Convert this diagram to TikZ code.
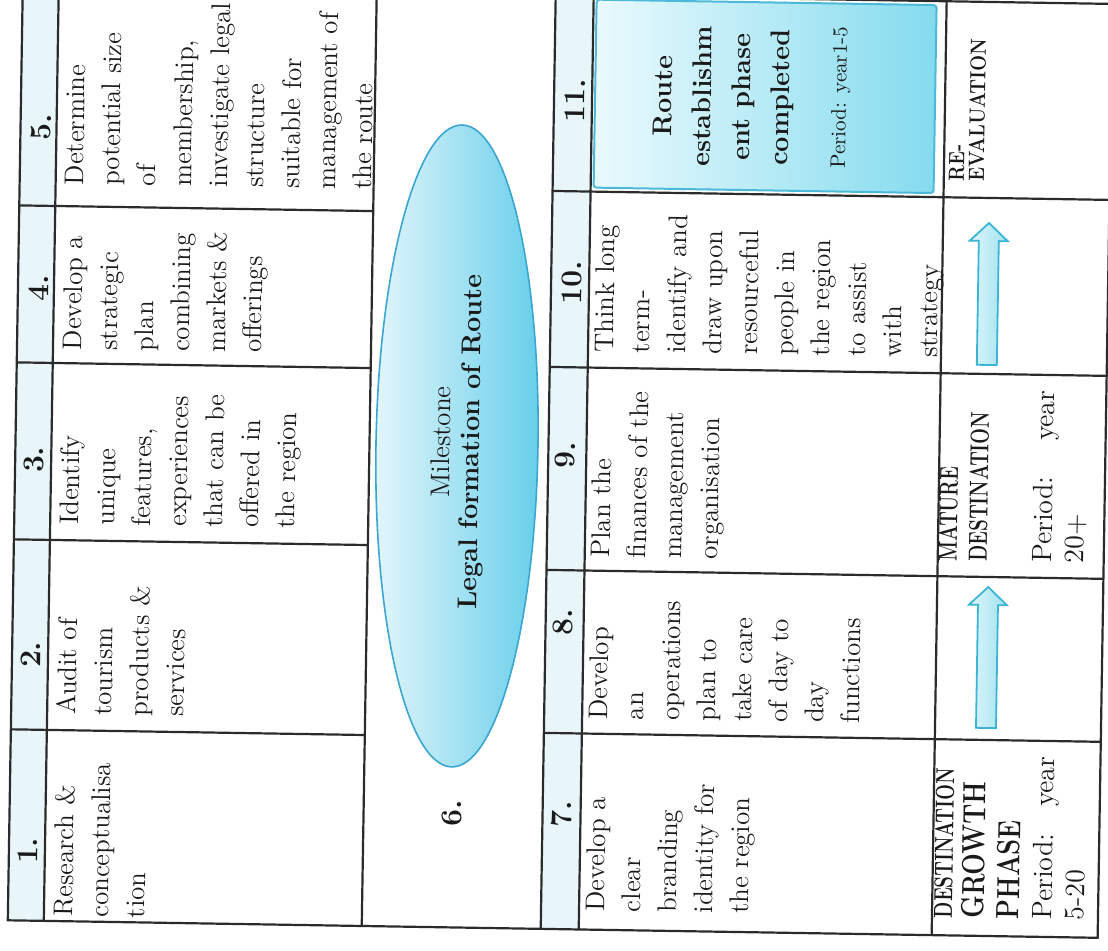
\documentclass[tikz,border=0pt]{standalone}
\usepackage{fontspec}
\usetikzlibrary{shapes.geometric}
\definecolor{hdr}{HTML}{E8F6F9}
\definecolor{linec}{HTML}{2B2B2B}
\definecolor{txt}{HTML}{1A1A1A}
\definecolor{ellb}{HTML}{3AA6D2}
\definecolor{elll}{HTML}{E4F6FB}
\definecolor{ellr}{HTML}{66CEEA}
\definecolor{boxb}{HTML}{4DB9D8}
\definecolor{boxl}{HTML}{EAFAFD}
\definecolor{boxr}{HTML}{84DBEE}
\definecolor{arrb}{HTML}{3CB4D6}
\definecolor{arrl}{HTML}{DDF6FB}
\definecolor{arrr}{HTML}{A2E1EF}
\begin{document}
\begin{tikzpicture}[x=0.5pt,y=-0.5pt,
  grid/.style={draw=linec, line width=1.1pt},
  body/.style={rotate=89.08, anchor=north west, inner sep=0pt, align=left, text=txt,
    font=\fontsize{13.5}{18}\selectfont},
  num/.style={rotate=89.08, inner sep=0pt, text=txt, font=\fontsize{15}{18}\selectfont\bfseries},
  phase/.style={rotate=89.08, anchor=base west, inner sep=0pt, text=txt},
  bigcap/.style={phase, font=\fontsize{16}{18}\selectfont\bfseries},
  smallcap/.style={phase, font=\fontsize{13}{15}\selectfont\bfseries},
  tinycap/.style={phase, font=\fontsize{11}{13}\selectfont\bfseries},
  period/.style={phase, font=\fontsize{14}{18}\selectfont},
  uparrow/.style={draw=arrb, line width=0.9pt, left color=arrl, right color=arrr}]
\useasboundingbox (0,0) rectangle (1108,950);
\clip (0,0) rectangle (1108,950);
\fill[white] (0,0) rectangle (1108,950);
\begin{scope}[rotate around={-0.92:(554,475)}]
  % header column fills
  \fill[hdr] (15,-5) rectangle (51,929);
  \fill[hdr] (548,-5) rectangle (586,929);
  % milestone ellipse
  \node[ellipse, draw=ellb, line width=0.8pt, left color=elll, right color=ellr,
        minimum width=81pt, minimum height=321pt, inner sep=0pt, rotate=-0.92] (ell) at (456.5,447.5) {};
  % route establishment box
  \node[draw=boxb, line width=1pt, left color=boxl, right color=boxr, rounded corners=1.5pt,
        minimum width=170pt, minimum height=94pt, inner sep=0pt, rotate=-0.92] (box11) at (759,93) {};
  % arrows
  \path[uparrow] (980,721) -- (980,598) -- (971,598) -- (990,580) -- (1009,598) -- (1000,598) -- (1000,721) -- cycle;
  \path[uparrow] (975,358) -- (975,234) -- (966,234) -- (985,216) -- (1004,234) -- (995,234) -- (995,358) -- cycle;
  % table grid
  \draw[grid] (15,-5) rectangle (1105,929);
  \foreach \xx in {51,369,548,586,939} \draw[grid] (\xx,-5) -- (\xx,929);
  \foreach \yy in {214,371,548,738} \draw[grid] (15,\yy) -- (369,\yy);
  \foreach \yy in {191,367,570,733} \draw[grid] (548,\yy) -- (1105,\yy);
  % numbers
  \node[num] (n1) at (34,859) {1.};
  \node[num] (n2) at (34,663) {2.};
  \node[num] (n3) at (34,468) {3.};
  \node[num] (n4) at (36,296) {4.};
  \node[num] (n5) at (36,135) {5.};
  \node[num] (n6) at (457,815) {6.};
  \node[num] (n7) at (567,814) {7.};
  \node[num] (n8) at (565,622) {8.};
  \node[num] (n9) at (565,455) {9.};
  \node[num] (n10) at (569,282) {10.};
  \node[num] (n11) at (569,100) {11.};
  % cell texts
  \node[body] (c1) at (60,925) {Research \&\\conceptualisa\\tion};
  \node[body] (c2) at (60,723) {Audit of\\tourism\\products \&\\services};
  \node[body] (c3) at (60,533) {Identify\\unique\\features,\\experiences\\that can be\\offered in\\the region};
  \node[body] (c4) at (60,358) {Develop a\\strategic\\plan\\combining\\markets \&\\offerings};
  \node[body] (c5) at (60,193) {Determine\\potential size\\of\\membership,\\investigate legal\\structure\\suitable for\\management of\\the route};
  \node[body] (c7) at (592,911) {Develop a\\clear\\branding\\identity for\\the region};
  \node[body] (c8) at (592,719) {Develop\\an\\operations\\plan to\\take care\\of day to\\day\\functions};
  \node[body] (c9) at (592,557) {Plan the\\finances of the\\management\\organisation};
  \node[body] (c10) at (592,352) {Think long\\term-\\identify and\\draw upon\\resourceful\\people in\\the region\\to assist\\with\\strategy};
  % milestone text
  \node[rotate=89.08, inner sep=0pt, align=center, text=txt, font=\fontsize{13.5}{14.5}\selectfont] (mst) at (457.5,443.5)
     {Milestone\\\textbf{Legal formation of Route}};
  % box text
  \node[rotate=89.08, anchor=north, inner sep=0pt, align=center, text=txt, font=\fontsize{13.5}{19.5}\selectfont\bfseries] (bt) at (647,94)
     {Route\\establishm\\ent phase\\completed};
  \node[rotate=89.08, anchor=base, inner sep=0pt, text=txt, font=\fontsize{10.5}{12}\selectfont] (bp) at (840,93) {Period: year1-5};
  % phase labels
  \node[smallcap] (d1) at (959,912) {\scalebox{0.72}[1]{DESTINATION}};
  \node[bigcap] (d2) at (991,912) {\scalebox{0.8}[1]{GROWTH}};
  \node[bigcap] (d3) at (1026,912) {\scalebox{0.8}[1]{PHASE}};
  \node[period] (d4) at (1059,912) {\hbox to 81.5pt{Period:\hfill year}};
  \node[period] (d5) at (1091,912) {5-20};
  \node[smallcap] (m1) at (958,555) {\scalebox{0.72}[1]{MATURE}};
  \node[smallcap] (m2) at (988,555) {\scalebox{0.72}[1]{DESTINATION}};
  \node[period] (m3) at (1053,555) {\hbox to 86pt{Period:\hfill year}};
  \node[period] (m4) at (1085,555) {20+};
  \node[tinycap] (r1) at (959,175) {\scalebox{0.86}[1]{RE-}};
  \node[tinycap] (r2) at (979,175) {\scalebox{0.86}[1]{EVALUATION}};
\end{scope}
\end{tikzpicture}
\end{document}
